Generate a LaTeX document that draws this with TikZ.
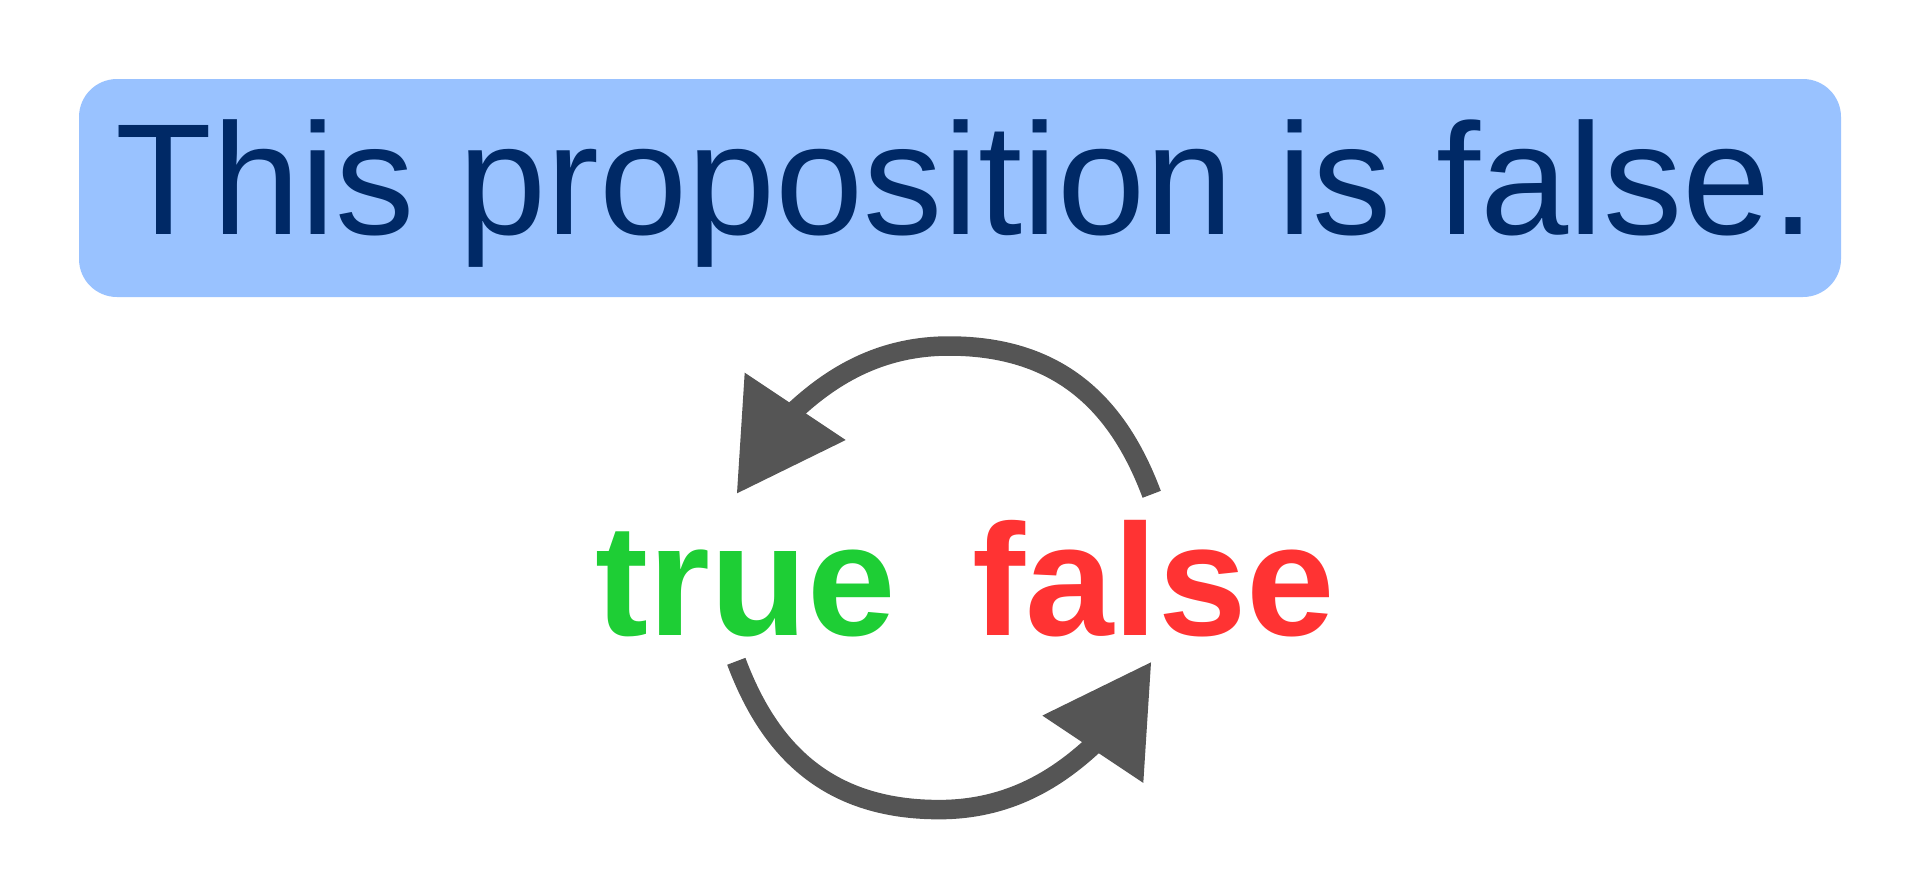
\documentclass[tikz,border=0pt]{standalone}
\usepackage{fontspec}
\setmainfont{Liberation Sans}
\definecolor{boxblue}{HTML}{99C2FF}
\definecolor{navytext}{HTML}{002966}
\definecolor{truegreen}{HTML}{1ECE35}
\definecolor{falsered}{HTML}{FF3333}
\definecolor{arrowgray}{HTML}{555555}
\tikzset{
  arcline/.style={draw=arrowgray,line width=19.5pt},
  headtri/.style={fill=arrowgray},
  propbox/.style={fill=boxblue,rounded corners=38pt},
  bigtext/.style={anchor=base west,inner sep=0pt,font=\fontsize{158.5}{160}\selectfont},
  booltext/.style={anchor=base west,inner sep=0pt,font=\fontsize{159}{160}\selectfont\bfseries},
  looparrow/.pic={
    \draw[arcline] (207.7,-83.5) .. controls (176,-168.1) and (120,-231.8) .. (5,-231.8)
                   .. controls (-65,-231.8) and (-114.4,-200.8) .. (-154,-162.8);
    \fill[headtri] (-199.3,-205.1) -- (-207,-84.5) -- (-98.3,-137.8) -- cycle;
  }
}
\begin{document}
\begin{tikzpicture}[x=1pt,y=-1pt]
\useasboundingbox (0,0) rectangle (1920,871);
\fill[propbox] (79,79) rectangle (1841,297);
\node[bigtext,text=navytext] (prop) at (115,234.5) {This proposition is false.};
\node[booltext,text=truegreen] (true) at (595,635) {true};
\node[booltext,text=falsered] (false) at (972.4,635) {false};
\pic (toploop) at (944,577.8) {looparrow};
\pic[rotate=180] (bottomloop) at (944,577.8) {looparrow};
\end{tikzpicture}
\end{document}
